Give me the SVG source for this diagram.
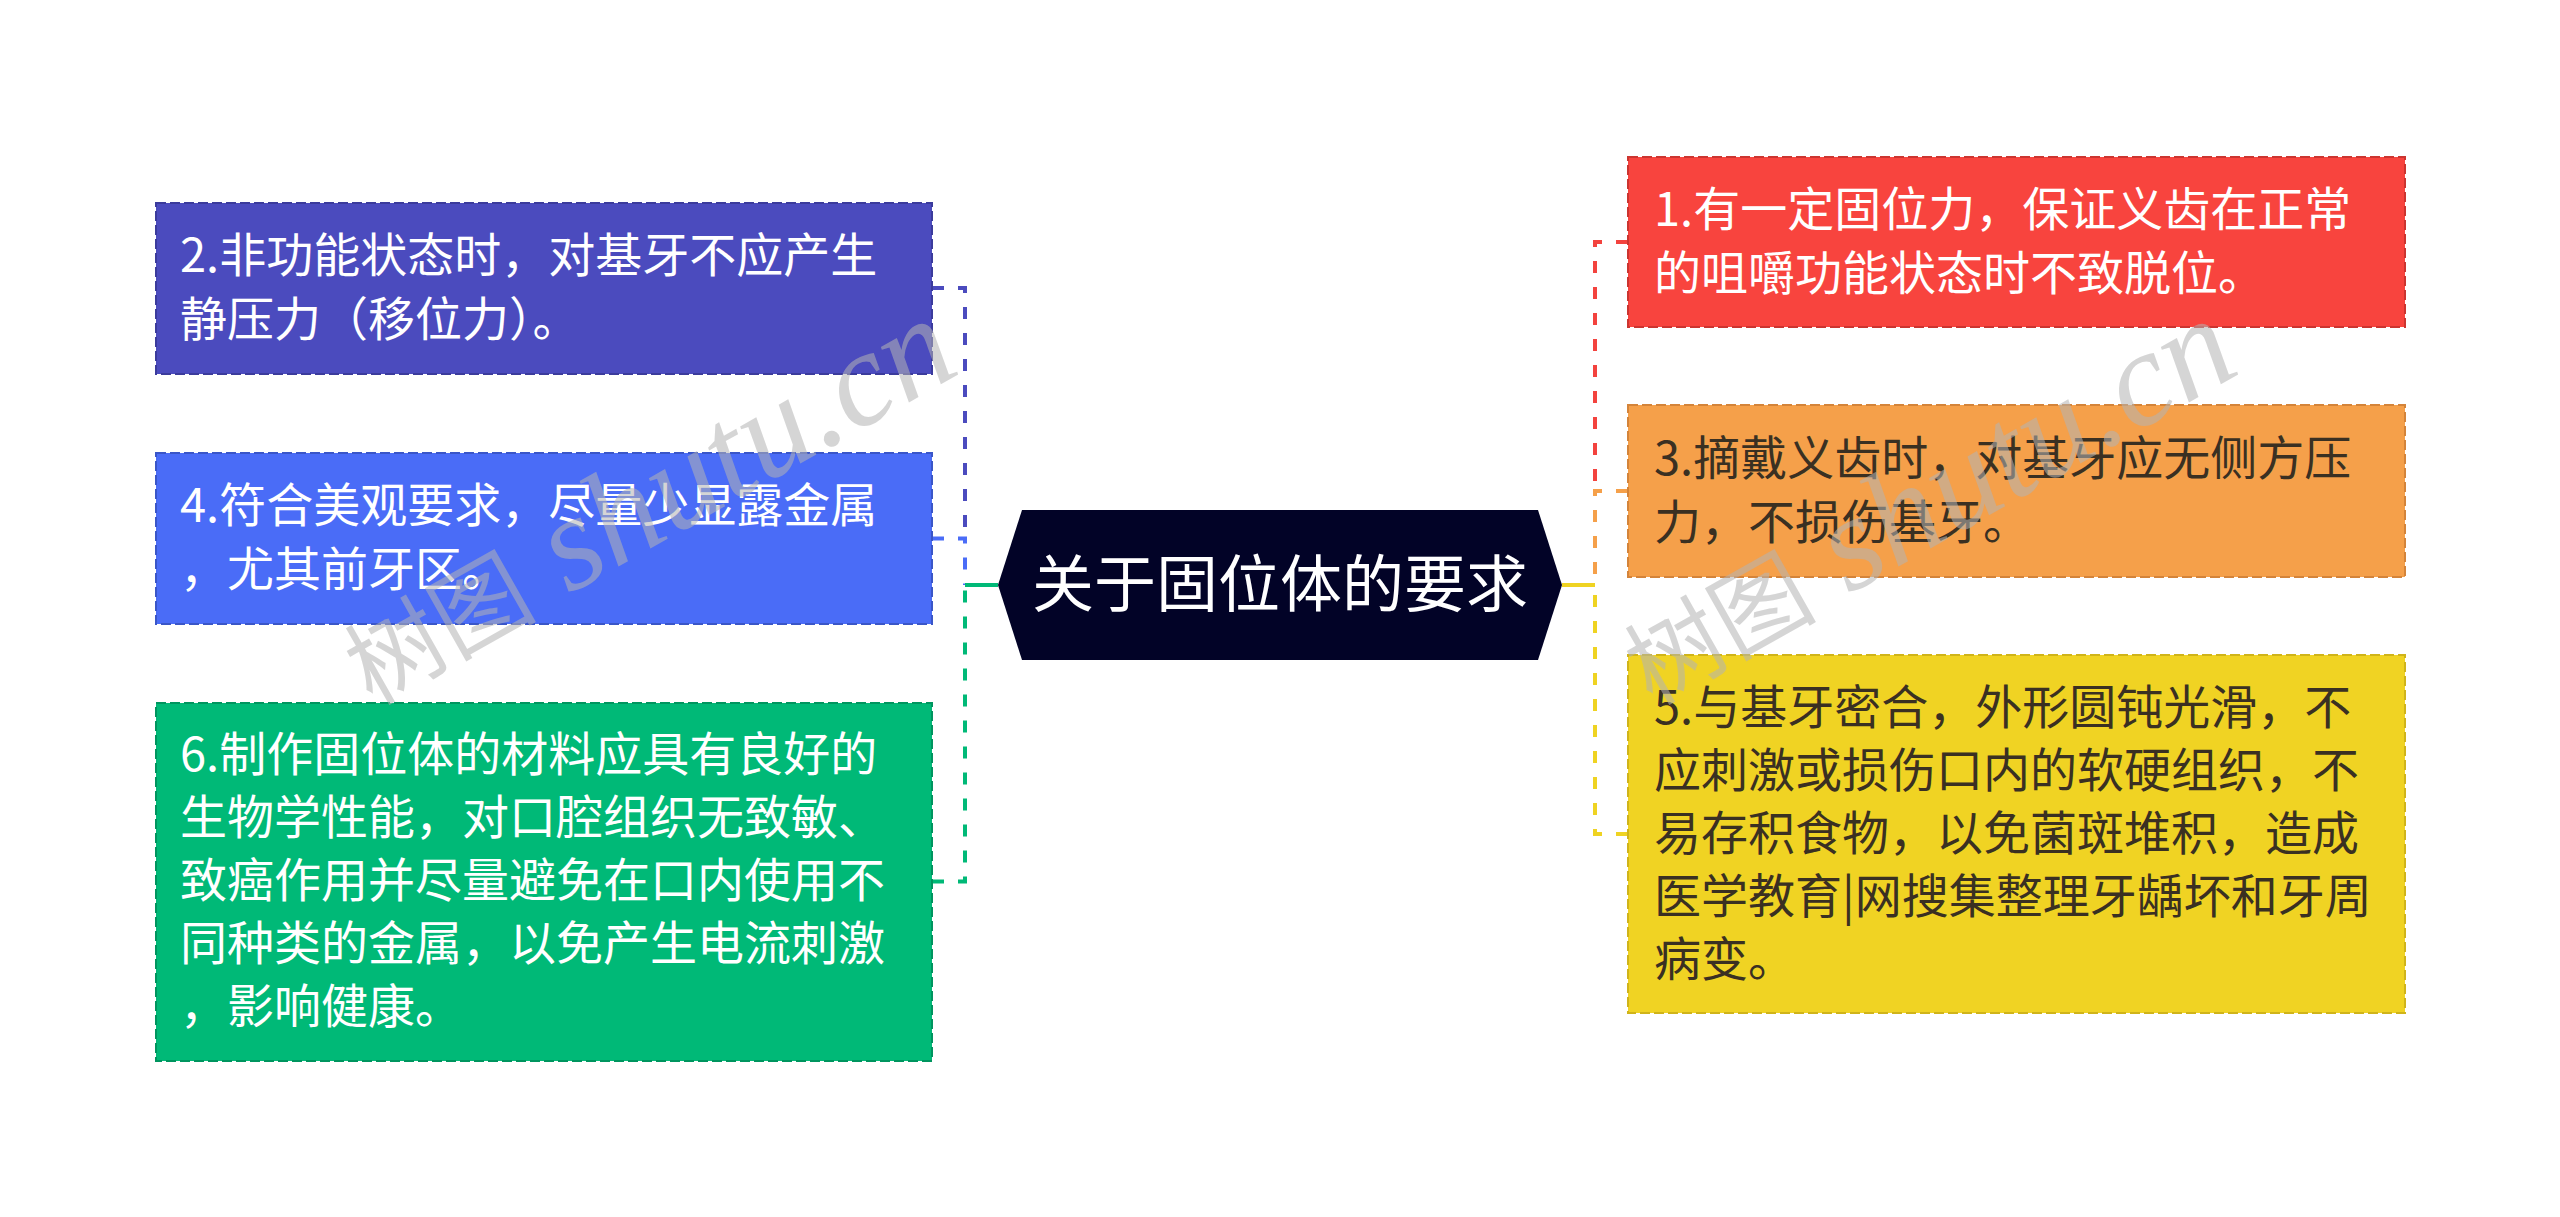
<svg xmlns="http://www.w3.org/2000/svg" width="2560" height="1217" viewBox="0 0 2560 1217">
<defs>
<style>
.box{stroke-width:2;stroke-dasharray:10 4}
.t{font-family:"Noto Sans CJK SC","Noto Sans",sans-serif;font-size:47px}
.w{fill:#ffffff}
.d{fill:#3a3022}
.title{font-family:"Noto Sans CJK SC","Noto Sans",sans-serif;font-size:62px;fill:#ffffff;text-anchor:middle}
.c{fill:none;stroke-width:4;stroke-dasharray:12 14}
.s{fill:none;stroke-width:4}
.wm{font-family:"Liberation Serif","Noto Sans CJK SC",serif;fill:#b4b4b4;opacity:0.55}
</style>
</defs>
<rect width="2560" height="1217" fill="#ffffff"/>
<g id="connectors">
<path class="c" stroke="#4B4BBE" d="M932 288 H965 V538"/>
<path class="c" stroke="#4A6CF7" d="M932 538.5 H965 V585"/>
<path class="c" stroke="#00B977" d="M932 881.5 H965 V585"/>
<path class="s" stroke="#00B977" d="M965 585 H998"/>
<path class="c" stroke="#F3433E" d="M1628 242 H1595 V491"/>
<path class="c" stroke="#F5A04A" d="M1628 491 H1595 V585"/>
<path class="c" stroke="#EFD322" d="M1628 834 H1595 V585"/>
<path class="s" stroke="#EFD322" d="M1562 585 H1595"/>
</g>
<g id="root">
<polygon points="998,585 1022,510 1538,510 1562,585 1538,660 1022,660" fill="#020327"/>
<text class="title" x="1280" y="607">关于固位体的要求</text>
</g>
<g id="n2">
<rect class="box" x="156" y="203" width="776" height="171" fill="#4B4BBE" stroke="#3b3b9c"/>
<text class="t w" x="180" y="272">2.非功能状态时，对基牙不应产生</text>
<text class="t w" x="180" y="336">静压力（移位力）。</text>
</g>
<g id="n4">
<rect class="box" x="156" y="453" width="776" height="171" fill="#4A6CF7" stroke="#3a56c8"/>
<text class="t w" x="180" y="522">4.符合美观要求，尽量少显露金属</text>
<text class="t w" x="180" y="586">，尤其前牙区。</text>
</g>
<g id="n6">
<rect class="box" x="156" y="703" width="776" height="358" fill="#00B977" stroke="#00955f"/>
<text class="t w" x="180" y="771">6.制作固位体的材料应具有良好的</text>
<text class="t w" x="180" y="834">生物学性能，对口腔组织无致敏、</text>
<text class="t w" x="180" y="897">致癌作用并尽量避免在口内使用不</text>
<text class="t w" x="180" y="960">同种类的金属，以免产生电流刺激</text>
<text class="t w" x="180" y="1023">，影响健康。</text>
</g>
<g id="n1">
<rect class="box" x="1628" y="157" width="777" height="170" fill="#F8443E" stroke="#cc3530"/>
<text class="t w" x="1654" y="226">1.有一定固位力，保证义齿在正常</text>
<text class="t w" x="1654" y="290">的咀嚼功能状态时不致脱位。</text>
</g>
<g id="n3">
<rect class="box" x="1628" y="405" width="777" height="172" fill="#F5A04A" stroke="#d4843a"/>
<text class="t d" x="1654" y="475">3.摘戴义齿时，对基牙应无侧方压</text>
<text class="t d" x="1654" y="539">力，不损伤基牙。</text>
</g>
<g id="n5">
<rect class="box" x="1628" y="655" width="777" height="358" fill="#F0D323" stroke="#d0b41a"/>
<text class="t d" x="1654" y="724">5.与基牙密合，外形圆钝光滑，不</text>
<text class="t d" x="1654" y="787">应刺激或损伤口内的软硬组织，不</text>
<text class="t d" x="1654" y="850">易存积食物，以免菌斑堆积，造成</text>
<text class="t d" x="1654" y="913">医学教育|网搜集整理牙龋坏和牙周</text>
<text class="t d" x="1654" y="976">病变。</text>
</g>
<g id="watermarks">
<text class="wm" transform="translate(372,706) rotate(-29.5)"><tspan font-size="96">树图</tspan><tspan font-size="135" font-style="italic"> shutu.cn</tspan></text>
<text class="wm" transform="translate(1652,706) rotate(-29.5)"><tspan font-size="96">树图</tspan><tspan font-size="135" font-style="italic"> shutu.cn</tspan></text>
</g>
</svg>
